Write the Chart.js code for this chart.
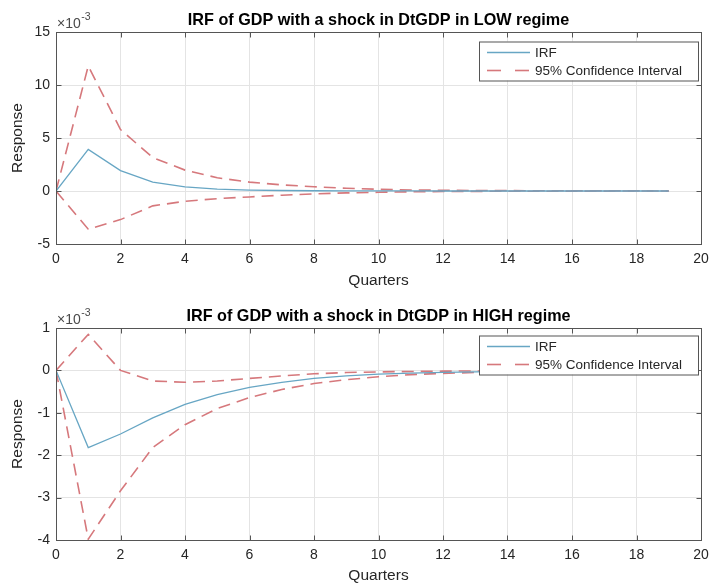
<!DOCTYPE html>
<html>
<head>
<meta charset="utf-8">
<script src="https://cdn.jsdelivr.net/npm/chart.js@4/dist/chart.umd.min.js"></script>
<style>
  html, body { margin: 0; padding: 0; background: #ffffff; }
  body { width: 711px; height: 583px; position: relative; overflow: hidden; }
  .box { position: absolute; left: 0; width: 711px; }
  canvas { display: block; }
</style>
</head>
<body>
<div class="box" style="top:0px;height:292px;"><canvas id="cLow" width="711" height="292"></canvas></div>
<div class="box" style="top:292px;height:291px;"><canvas id="cHigh" width="711" height="291"></canvas></div>
<script>
// ---------------- data ----------------
const quarters = [0, 1, 2, 3, 4, 5, 6, 7, 8, 9, 10, 11, 12, 13, 14, 15, 16, 17, 18, 19];

// LOW regime
const irfLow   = [0, 0.00393, 0.00192, 0.00084, 0.00038, 0.00018, 0.00009, 0.000045, 0.000022, 0.000011,
                  0.000006, 0.000003, 0.0000015, 0.000001, 0.0000005, 0.0000003, 0.0000002, 0.0000001, 0.00000005, 0.00000003];
const upperLow = [0, 0.0118, 0.0058, 0.00315, 0.00197, 0.00125, 0.00084, 0.00058, 0.0004, 0.00026,
                  0.00016, 0.0001, 0.00007, 0.00005, 0.000035, 0.000025, 0.000018, 0.000012, 0.000008, 0.000005];
const lowerLow = [0, -0.0036, -0.0027, -0.0014, -0.00097, -0.00072, -0.00056, -0.0004, -0.00027, -0.00018,
                  -0.00012, -0.00008, -0.00005, -0.000035, -0.000025, -0.000018, -0.000012, -0.000008, -0.000005, -0.000003];

// HIGH regime
const irfHigh   = [0, -0.00182, -0.0015, -0.00112, -0.0008, -0.00057, -0.0004, -0.00028, -0.00019, -0.00013,
                   -0.00009, -0.000065, -0.000047, -0.000034, -0.000025, -0.000018, -0.000013, -0.000009, -0.000006, -0.000004];
const upperHigh = [0, 0.00085, 0.0, -0.00025, -0.00028, -0.00025, -0.00019, -0.00013, -0.00008, -0.00005,
                   -0.000035, -0.000025, -0.000018, -0.000013, -0.000009, -0.000006, -0.000004, -0.000003, -0.000002, -0.000001];
const lowerHigh = [0, -0.00398, -0.00284, -0.00182, -0.00128, -0.0009, -0.00064, -0.00045, -0.00031, -0.00022,
                   -0.00015, -0.0001, -0.00007, -0.00005, -0.000035, -0.000025, -0.000018, -0.000013, -0.000009, -0.000006];

const xTicks = [0, 2, 4, 6, 8, 10, 12, 14, 16, 18, 20];
const yTicksLow  = [-0.005, 0, 0.005, 0.01, 0.015];
const yTicksHigh = [-0.004, -0.003, -0.002, -0.001, 0, 0.001];

const titles = {
  low:  'IRF of GDP with a shock in DtGDP in LOW regime',
  high: 'IRF of GDP with a shock in DtGDP in HIGH regime'
};
const legendLabels = ['IRF', '95% Confidence Interval'];
const xTitle = 'Quarters';
const yTitle = 'Response';

// ---------------- styling ----------------
const FONT = "'Liberation Sans', Arial, Helvetica, sans-serif";
const TEXT = '#262626';
const AXIS = '#555555';
const GRID = '#e4e4e4';
const IRF_COLOR = '#67a6c4';
const CI_COLOR = '#d6787c';
const CI_DASH = [12, 7];

Chart.defaults.font.family = FONT;
Chart.defaults.color = TEXT;

const toXY = arr => quarters.map((q, i) => ({ x: q, y: arr[i] }));

const decor = {
  id: 'decor',
  afterDatasetsDraw(chart, args, o) {
    const { ctx, chartArea: a, scales: { x, y } } = chart;
    const L0 = Math.round(a.left) + 0.5, T0 = Math.round(a.top) + 0.5;
    const R0 = Math.round(a.right) + 0.5, B0 = Math.round(a.bottom) + 0.5;
    ctx.save();
    // inward tick marks
    ctx.strokeStyle = AXIS;
    ctx.lineWidth = 1;
    ctx.beginPath();
    x.ticks.forEach(t => {
      const px = Math.round(x.getPixelForValue(t.value)) + 0.5;
      ctx.moveTo(px, B0); ctx.lineTo(px, B0 - 5);
      ctx.moveTo(px, T0); ctx.lineTo(px, T0 + 5);
    });
    y.ticks.forEach(t => {
      const py = Math.round(y.getPixelForValue(t.value)) + 0.5;
      ctx.moveTo(L0, py); ctx.lineTo(L0 + 5, py);
      ctx.moveTo(R0, py); ctx.lineTo(R0 - 5, py);
    });
    ctx.stroke();
    // frame
    ctx.strokeRect(L0, T0, R0 - L0, B0 - T0);

    // legend
    const L = o.legend;
    ctx.fillStyle = '#ffffff';
    ctx.fillRect(L.left, L.top, L.width, L.height);
    ctx.strokeStyle = AXIS;
    ctx.strokeRect(L.left + 0.5, L.top + 0.5, L.width, L.height);
    const entries = chart.data.datasets.filter(d => d.showInLegend);
    ctx.font = '13.5px ' + FONT;
    ctx.textBaseline = 'middle';
    ctx.textAlign = 'left';
    entries.forEach((d, i) => {
      const ry = L.top + L.rows[i];
      ctx.beginPath();
      ctx.strokeStyle = d.borderColor;
      ctx.lineWidth = d.borderWidth;
      ctx.setLineDash(d.borderDash ? [14, 14] : []);
      ctx.moveTo(L.left + 8, ry); ctx.lineTo(L.left + 51, ry);
      ctx.stroke();
      ctx.setLineDash([]);
      ctx.fillStyle = TEXT;
      ctx.fillText(d.label, L.left + 56, ry + 0.5);
    });

    // title
    ctx.fillStyle = '#000000';
    ctx.font = 'bold 16.2px ' + FONT;
    ctx.textAlign = 'center';
    ctx.textBaseline = 'middle';
    ctx.fillText(o.title, (a.left + a.right) / 2, a.top - 11);

    // exponent label
    ctx.fillStyle = '#4a4a4a';
    ctx.textAlign = 'left';
    ctx.font = '14px ' + FONT;
    ctx.fillText('\u00d710', a.left + 1, a.top - 8);
    const w = ctx.measureText('\u00d710').width;
    ctx.font = '10.5px ' + FONT;
    ctx.fillText('-3', a.left + 1 + w + 0.5, a.top - 14.5);
    ctx.restore();
  }
};

function makeChart(id, H, T, irf, up, lo, yMin, yMax, yTickVals, title, legendTop, xTitlePad) {
  const PLOT_H = 212;
  return new Chart(document.getElementById(id), {
    type: 'line',
    data: {
      datasets: [
        { label: legendLabels[0], data: toXY(irf), borderColor: IRF_COLOR, borderWidth: 1.3,
          pointRadius: 0, tension: 0, showInLegend: true },
        { label: legendLabels[1], data: toXY(up), borderColor: CI_COLOR, borderWidth: 1.6,
          borderDash: CI_DASH, pointRadius: 0, tension: 0, showInLegend: true },
        { label: legendLabels[1] + ' (lower)', data: toXY(lo), borderColor: CI_COLOR, borderWidth: 1.6,
          borderDash: CI_DASH, pointRadius: 0, tension: 0, showInLegend: false }
      ]
    },
    options: {
      responsive: false,
      animation: false,
      devicePixelRatio: 1,
      layout: { padding: { top: T, left: 0, right: 10, bottom: 0 } },
      plugins: {
        legend: { display: false },
        tooltip: { enabled: false },
        decor: {
          title: title,
          legend: { left: 479, top: legendTop, width: 219, height: 39, rows: [11, 29] }
        }
      },
      scales: {
        x: {
          type: 'linear',
          min: xTicks[0], max: xTicks[xTicks.length - 1],
          afterBuildTicks: s => { s.ticks = xTicks.map(v => ({ value: v })); },
          ticks: { font: { size: 14 }, color: TEXT, padding: 7, maxRotation: 0,
                   callback: v => String(v) },
          grid: { color: GRID, lineWidth: 1, drawTicks: false },
          border: { display: false },
          title: { display: true, text: xTitle, font: { size: 15.5 }, color: TEXT,
                   padding: { top: 0, bottom: xTitlePad } },
          afterFit: s => { s.height = H - T - PLOT_H; s.paddingRight = 0; s.paddingLeft = 0; }
        },
        y: {
          type: 'linear',
          min: yMin, max: yMax,
          afterBuildTicks: s => { s.ticks = yTickVals.map(v => ({ value: v })); },
          ticks: { font: { size: 14 }, color: TEXT, padding: 6,
                   callback: v => String(Math.round(v * 1000)) },
          grid: { color: GRID, lineWidth: 1, drawTicks: false },
          border: { display: false },
          title: { display: true, text: yTitle, font: { size: 15.5 }, color: TEXT,
                   padding: { top: 8.5, bottom: 0 } },
          afterFit: s => { s.width = 56; s.paddingTop = 0; s.paddingBottom = 0; }
        }
      }
    },
    plugins: [decor]
  });
}

makeChart('cLow', 292, 32, irfLow, upperLow, lowerLow, -0.005, 0.015, yTicksLow, titles.low, 41.5, 1.7);
makeChart('cHigh', 291, 36, irfHigh, upperHigh, lowerHigh, -0.004, 0.001, yTicksHigh, titles.high, 43.5, -2);
</script>
</body>
</html>
